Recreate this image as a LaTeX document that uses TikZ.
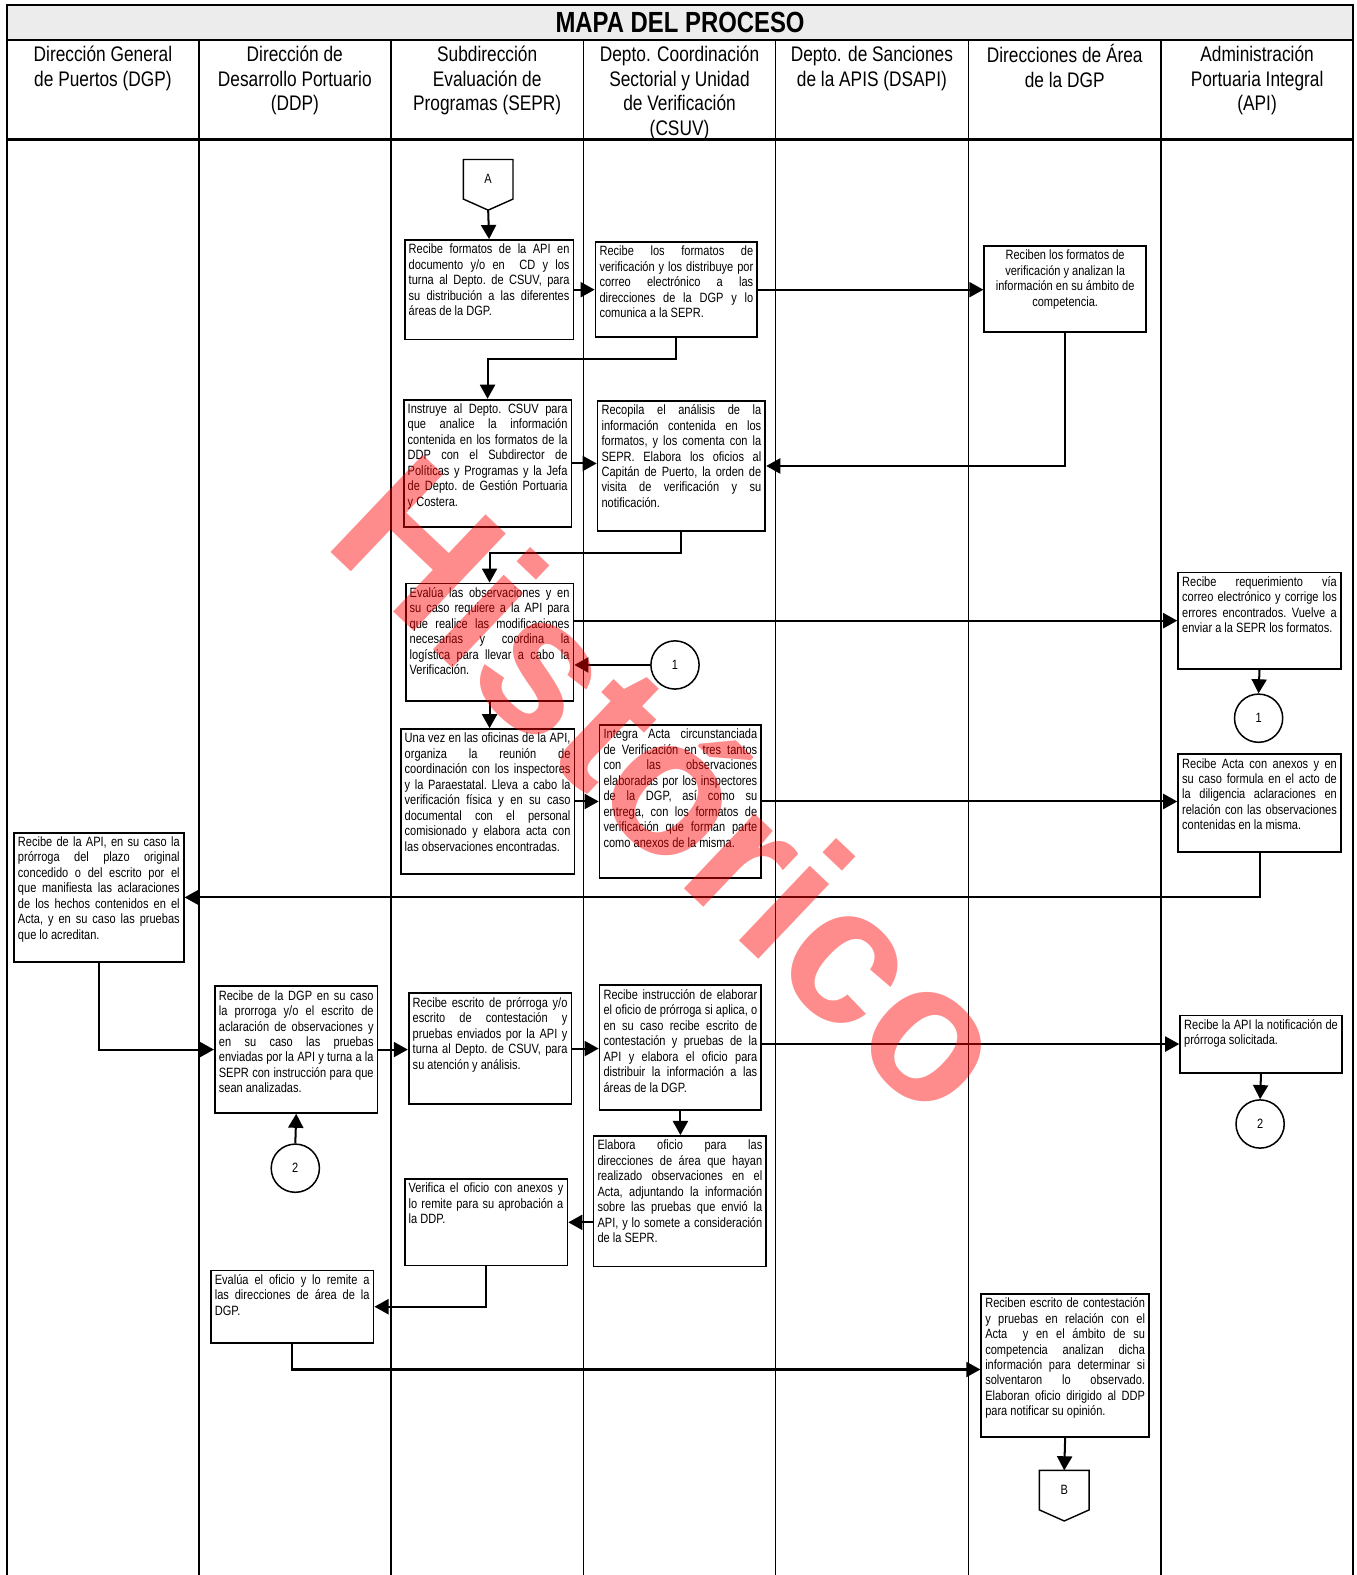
\documentclass[tikz,border=0pt]{standalone}
\usepackage{fontspec}
\usetikzlibrary{arrows.meta,calc,positioning}

\newfontfamily\angosta{Liberation Sans}[FakeStretch=0.82]
\newfontfamily\marcafont{Liberation Sans}
\newcommand{\cajafont}{\angosta\fontsize{13.4}{15.4}\selectfont}
\newcommand{\cabfont}{\angosta\fontsize{21}{24.5}\selectfont}
\newcommand{\caja}[3]{\parbox[t][#2pt][t]{#1pt}{\cajafont\frenchspacing\hyphenpenalty=10000\exhyphenpenalty=10000\tolerance=10000 #3}}

\tikzset{
  paso/.style={draw, line width=1.8pt, inner sep=4pt, anchor=north west},
  circulo/.style={draw, circle, line width=1.5pt, minimum size=48pt, inner sep=0pt, font=\cajafont},
  conector/.style={minimum width=49pt, minimum height=39pt, inner sep=0pt, font=\cajafont},
  flecha/.style={line width=2pt, -{Triangle[length=14pt,width=15pt]}},
  carril/.style={line width=1.6pt},
  cabecera/.style={anchor=north, inner sep=0pt, align=center, font=\cabfont},
  marca/.style={inner sep=0pt, rotate=-43.5, text=red, text opacity=0.45,
    font=\marcafont\bfseries\fontsize{194}{196}\selectfont}
}

\begin{document}
\begin{tikzpicture}[x=1pt, y=-1pt]
    \useasboundingbox (0,0) rectangle (1350,1568);

    % marco y carriles
    \fill[gray!15] (7,5) rectangle (1347,40);
    \draw[line width=2pt] (7,1568) -- (7,5) -- (1347,5) -- (1347,1568);
    \draw[carril] (7,40) -- (1347,40);
    \draw[line width=3pt] (7,139) -- (1347,139);
    \foreach \x in {198,389,581,772,964,1156}
        \draw[carril] (\x,40) -- (\x,1568);

    \node[font=\angosta\bfseries\fontsize{29}{30}\selectfont] (titulo) at (677,22.5) {MAPA DEL PROCESO};
    \node[cabecera] (dgp) at (102.5,44) {\strut Dirección General\\de Puertos (DGP)};
    \node[cabecera] (ddp) at (293.5,44) {\strut Dirección de\\Desarrollo Portuario\\(DDP)};
    \node[cabecera] (sepr) at (485,44) {\strut Subdirección\\Evaluación de\\Programas (SEPR)};
    \node[cabecera] (csuv) at (676.5,44) {\strut Depto. Coordinación\\Sectorial y Unidad\\de Verificación\\(CSUV)};
    \node[cabecera] (dsapi) at (868,44) {\strut Depto. de Sanciones\\de la APIS (DSAPI)};
    \node[cabecera] (dadgp) at (1060,44) {\strut Direcciones de Área\\de la DGP};
    \node[cabecera] (api) at (1251.5,44) {\strut Administración\\Portuaria Integral\\(API)};

    % conector de entrada
    \node[conector] (A) at (486,178.5) {A};
    \draw[line width=1.4pt] (A.north west) -- (A.north east) -- (A.south east) -- ($(A.south)+(0,11)$) -- (A.south west) -- cycle;
    \coordinate (Apunta) at ($(A.south)+(0,11)$);

    % pasos
    \node[paso] (b1) at (402,238) {\caja{160}{91}{Recibe formatos de la API en\linebreak documento y/o en\ \ CD y los\linebreak turna al Depto. de CSUV, para\linebreak su distribución a las diferentes\linebreak áreas de la DGP.}};
    \node[paso] (b2) at (592,240) {\caja{153}{87}{Recibe los formatos de\linebreak verificación y los distribuye por\linebreak correo electrónico a las\linebreak direcciones de la DGP y lo\linebreak comunica a la SEPR.}};
    \node[paso] (b3) at (979,244) {\caja{153}{78}{\centering Reciben los formatos de\\ verificación y analizan la\\ información en su ámbito de\\ competencia.}};
    \node[paso] (b5) at (401,397) {\caja{159}{119}{Instruye al Depto. CSUV para\linebreak que analice la información\linebreak contenida en los formatos de la\linebreak DDP con el Subdirector de\linebreak Políticas y Programas y la Jefa\linebreak de Depto. de Gestión Portuaria\linebreak y Costera.}};
    \node[paso] (b4) at (594,398) {\caja{159}{122}{Recopila el análisis de la\linebreak información contenida en los\linebreak formatos, y los comenta con la\linebreak SEPR. Elabora los oficios al\linebreak Capitán de Puerto, la orden de\linebreak visita de verificación y su\linebreak notificación.}};
    \node[paso] (b6) at (403,580) {\caja{159}{109}{Evalúa las observaciones y en\linebreak su caso requiere a la API para\linebreak que realice las modificaciones\linebreak necesarias y coordina la\linebreak logística para llevar a cabo la\linebreak Verificación.}};
    \node[paso] (b7) at (1172,569) {\caja{154}{88}{Recibe requerimiento vía\linebreak correo electrónico y corrige los\linebreak errores encontrados. Vuelve a\linebreak enviar a la SEPR los formatos.}};
    \node[circulo] (c1r) at (1253,715) {1};
    \node[circulo] (c1l) at (672,662) {1};
    \node[paso] (b8) at (398,725) {\caja{165}{136}{Una vez en las oficinas de la API,\linebreak organiza la reunión de\linebreak coordinación con los inspectores\linebreak y la Paraestatal. Lleva a cabo la\linebreak verificación física y en su caso\linebreak documental con el personal\linebreak comisionado y elabora acta con\linebreak las observaciones encontradas.}};
    \node[paso] (b9) at (596,721) {\caja{153}{144}{Integra Acta circunstanciada\linebreak de Verificación en tres tantos\linebreak con las observaciones\linebreak elaboradas por los inspectores\linebreak de la DGP, así como su\linebreak entrega, con los formatos de\linebreak verificación que forman parte\linebreak como anexos de la misma.}};
    \node[paso] (b10) at (1172,750) {\caja{154}{89}{Recibe Acta con anexos y en\linebreak su caso formula en el acto de\linebreak la diligencia aclaraciones en\linebreak relación con las observaciones\linebreak contenidas en la misma.}};
    \node[paso] (b11) at (13,828) {\caja{161}{121}{Recibe de la API, en su caso la\linebreak prórroga del plazo original\linebreak concedido o del escrito por el\linebreak que manifiesta las aclaraciones\linebreak de los hechos contenidos en el\linebreak Acta, y en su caso las pruebas\linebreak que lo acreditan.}};
    \node[paso] (b12) at (213,981) {\caja{154}{118}{Recibe de la DGP en su caso\linebreak la prorroga y/o el escrito de\linebreak aclaración de observaciones y\linebreak en su caso las pruebas\linebreak enviadas por la API y turna a la\linebreak SEPR con instrucción para que\linebreak sean analizadas.}};
    \node[circulo] (c2l) at (294,1163) {2};
    \node[paso] (b13) at (406,988) {\caja{154}{102}{Recibe escrito de prórroga y/o\linebreak escrito de contestación y\linebreak pruebas enviados por la API y\linebreak turna al Depto. de CSUV, para\linebreak su atención y análisis.}};
    \node[paso] (b14) at (596,980) {\caja{153}{116}{Recibe instrucción de elaborar\linebreak el oficio de prórroga si aplica, o\linebreak en su caso recibe escrito de\linebreak contestación y pruebas de la\linebreak API y elabora el oficio para\linebreak distribuir la información a las\linebreak áreas de la DGP.}};
    \node[paso] (b15) at (1174,1010) {\caja{153}{49}{Recibe la API la notificación de\linebreak prórroga solicitada.}};
    \node[circulo] (c2r) at (1254.5,1119) {2};
    \node[paso] (b16) at (590,1130) {\caja{164}{122}{Elabora oficio para las\linebreak direcciones de área que hayan\linebreak realizado observaciones en el\linebreak Acta, adjuntando la información\linebreak sobre las pruebas que envió la\linebreak API, y lo somete a consideración\linebreak de la SEPR.}};
    \node[paso] (b17) at (402,1173) {\caja{154}{78}{Verifica el oficio con anexos y\linebreak lo remite para su aprobación a\linebreak la DDP.}};
    \node[paso] (b18) at (209,1264) {\caja{154}{64}{Evalúa el oficio y lo remite a\linebreak las direcciones de área de la\linebreak DGP.}};
    \node[paso] (b19) at (976,1287) {\caja{159}{135}{Reciben escrito de contestación\linebreak y pruebas en relación con el\linebreak Acta\ \ y en el ámbito de su\linebreak competencia analizan dicha\linebreak información para determinar si\linebreak solventaron lo observado.\linebreak Elaboran oficio dirigido al DDP\linebreak para notificar su opinión.}};

    % conector de salida
    \node[conector] (B) at (1059.5,1483.5) {B};
    \draw[line width=1.4pt] (B.north west) -- (B.north east) -- (B.south east) -- ($(B.south)+(0,11)$) -- (B.south west) -- cycle;

    % flujo
    \draw[flecha] (Apunta) -- (b1.north);
    \draw[flecha] (b1.east) -- (b1.east -| b2.west);
    \draw[flecha] (b2.east) -- (b2.east -| b3.west);
    \draw[flecha] (b2.south) -- ++(0,21) -| (b5.north);
    \draw[flecha] (b5.east) -- (b5.east -| b4.west);
    \draw[flecha] (b3.south) |- (b4.east);
    \draw[flecha] (b4.south) -- ++(0,21) -| (b6.north);
    \draw[flecha] (b6.east |- b7.west) -- (b7.west);
    \draw[flecha] (b7.south) -- (c1r.north);
    \draw[flecha] (c1l.west) -- (b6.east |- c1l.west);
    \draw[flecha] (b6.south) -- (b6.south |- b8.north);
    \draw[flecha] (b8.east) -- (b8.east -| b9.west);
    \draw[flecha] (b9.east) -- (b9.east -| b10.west);
    \draw[flecha] (b10.south) |- (b11.east);
    \draw[flecha] (b11.south) |- (b12.west);
    \draw[flecha] (c2l.north) -- (b12.south);
    \draw[flecha] (b12.east) -- (b12.east -| b13.west);
    \draw[flecha] (b13.east) -- (b13.east -| b14.west);
    \draw[flecha] (b14.east |- b15.west) -- (b15.west);
    \draw[flecha] (b15.south) -- (c2r.north);
    \draw[flecha] (b14.south) -- (b14.south |- b16.north);
    \draw[flecha] (b16.west |- b17.east) -- (b17.east);
    \draw[flecha] (b17.south) |- (b18.east);
    \draw[flecha] (b18.south) |- ([yshift=-4pt]b19.west);
    \draw[flecha] (b19.south) -- (B.north);

    % sello
    \node[marca] (sello) at (673,780) {Histórico};
\end{tikzpicture}
\end{document}
